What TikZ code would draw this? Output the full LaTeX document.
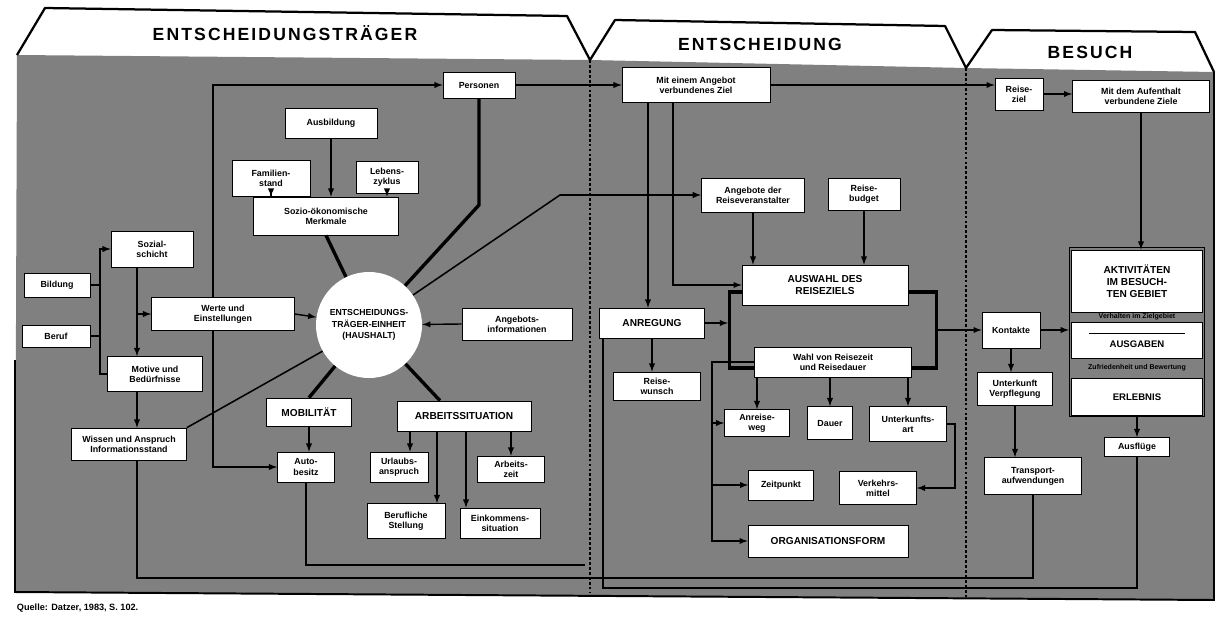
\documentclass[tikz,border=0pt]{standalone}
\usepackage{fontspec}
\setmainfont{Liberation Sans}

\tikzset{
  box/.style 2 args={draw, fill=white, line width=0.5pt, minimum width=#1*0.025cm, minimum height=#2*0.025cm,
    inner sep=0.6pt, align=center, font=\fontsize{6.3}{7.2}\selectfont\bfseries},
  capbox/.style 2 args={box={#1}{#2}, font=\fontsize{7.2}{8.2}\selectfont\bfseries},
  conn/.style={line width=1pt},
  spoke/.style={line width=2.4pt},
  thinspoke/.style={line width=1.1pt},
  sep/.style={line width=1.6pt, dash pattern=on 2pt off 1.5pt},
  tab/.style={line width=1.6pt, line join=round},
  tablabel/.style={font=\fontsize{12.5}{12.5}\selectfont\bfseries\addfontfeature{LetterSpace=12}},
  strip/.style={font=\fontsize{5}{5.6}\selectfont\bfseries, align=center, inner sep=0pt}
}

\begin{document}
\begin{tikzpicture}[x=0.025cm, y=-0.025cm, >=latex]
        \useasboundingbox (0,0) rectangle (1217,619);

        \coordinate (xB) at (100,0);
        \coordinate (xS) at (137,0);
        \coordinate (xL) at (213,0);
        \coordinate (xu) at (410,0);
        \coordinate (xc) at (437,0);
        \coordinate (xe) at (466,0);
        \coordinate (x603) at (603,0);
        \coordinate (xz1) at (648,0);
        \coordinate (xz2) at (673,0);
        \coordinate (xm) at (712,0);
        \coordinate (xr) at (955,0);
        \coordinate (j565) at (585,565);
        \coordinate (j578) at (600,578);
        \coordinate (base) at (0,588);

        \fill[black!50] (17,55) -- (590,60) -- (966,68) -- (1214,72) -- (1214,600) -- (15,592) -- cycle;
        \draw[tab] (17,55) -- (45,8) -- (567,16) -- (590,60) -- (615,20) -- (945,26) -- (966,68) -- (992,30) -- (1195,32) -- (1214,72);
        \draw[sep] (590,60) -- (590,592);
        \draw[sep] (966,68) -- (966,598);
        \draw[line width=1.4pt] (15,360) -- (15,592) -- (1214,600) -- (1214,72);

        \node[tablabel] (tl1) at (285,33) {ENTSCHEIDUNGSTRÄGER};
        \node[tablabel] (tl2) at (760,44) {ENTSCHEIDUNG};
        \node[tablabel] (tl3) at (1090,52) {BESUCH};

        \node[draw, line width=2.2pt, minimum width=207*0.025cm, minimum height=76*0.025cm] (enc) at (833,330) {};
        \node[draw, line width=1pt, minimum width=135*0.025cm, minimum height=169*0.025cm] (big) at (1137,332) {};

        \node[box={72}{26}] (pers) at (479,85) {Personen};
        \node[box={92}{30}] (ausb) at (331,123) {Ausbildung};
        \node[box={78}{36}] (fam) at (271,178) {Familien-\\stand};
        \node[box={62}{32}] (lz) at (387,177) {Lebens-\\zyklus};
        \node[box={145}{38}] (sozio) at (326,216) {Sozio-ökonomische\\Merkmale};
        \node[box={82}{36}] (schicht) at (152,249) {Sozial-\\schicht};
        \node[box={66}{24}] (bild) at (57,285) {Bildung};
        \node[box={68}{22}] (beruf) at (56,336) {Beruf};
        \node[box={143}{33}] (werte) at (223,314) {Werte und\\Einstellungen};
        \node[box={95}{35}] (motiv) at (155,374) {Motive und\\Bedürfnisse};
        \node[box={115}{32}] (wissen) at (129,444) {Wissen und Anspruch\\Informationsstand};
        \node[circle, fill=white, minimum size=106*0.025cm, inner sep=0pt, align=center,
              font=\fontsize{6.2}{8.2}\selectfont\bfseries] (trg) at (369,325) {ENTSCHEIDUNGS-\\TRÄGER-EINHEIT\\(HAUSHALT)};
        \node[capbox={85}{28}] (mob) at (309,412) {MOBILITÄT};
        \node[box={57}{30}] (auto) at (306,467) {Auto-\\besitz};
        \node[capbox={134}{30}] (arb) at (464,416) {ARBEITSSITUATION};
        \node[box={58}{30}] (url) at (399,467) {Urlaubs-\\anspruch};
        \node[box={67}{26}] (azeit) at (511,469) {Arbeits-\\zeit};
        \node[box={78}{35}] (stell) at (406,521) {Berufliche\\Stellung};
        \node[box={80}{30}] (eink) at (500,523) {Einkommens-\\situation};
        \node[box={110}{32}] (info) at (517,324) {Angebots-\\informationen};

        \node[box={148}{35}] (ziel1) at (696,85) {Mit einem Angebot\\verbundenes Ziel};
        \node[box={103}{34}] (anb) at (753,195) {Angebote der\\Reiseveranstalter};
        \node[box={72}{32}] (budget) at (864,194) {Reise-\\budget};
        \node[capbox={166}{40}] (ausw) at (825,285) {AUSWAHL DES\\REISEZIELS};
        \node[capbox={105}{30}] (anreg) at (652,323) {ANREGUNG};
        \node[box={87}{28}] (wunsch) at (657,386) {Reise-\\wunsch};
        \node[box={157}{30}] (wahl) at (833,362) {Wahl von Reisezeit\\und Reisedauer};
        \node[box={65}{27}] (anr) at (757,423) {Anreise-\\weg};
        \node[box={45}{33}] (dauer) at (830,423) {Dauer};
        \node[box={77}{35}] (untk) at (908,424) {Unterkunfts-\\art};
        \node[box={65}{30}] (zeitp) at (781,485) {Zeitpunkt};
        \node[box={77}{33}] (verk) at (878,488) {Verkehrs-\\mittel};
        \node[capbox={160}{32}] (org) at (828,541) {ORGANISATIONSFORM};

        \node[box={48}{32}] (fremd) at (1019,94) {Reise-\\ziel};
        \node[box={137}{32}] (ziel2) at (1141,96) {Mit dem Aufenthalt\\verbundene Ziele};
        \node[box={131}{62}, font=\fontsize{7.2}{8.6}\selectfont\bfseries] (akt) at (1137,281) {AKTIVITÄTEN\\IM BESUCH-\\TEN GEBIET};
        \node[box={131}{36}, font=\fontsize{6.8}{7.6}\selectfont\bfseries] (ausg) at (1137,340) {\rule{2.4cm}{0.8pt}\\[2pt]AUSGABEN};
        \node[box={131}{37}, font=\fontsize{6.8}{7.6}\selectfont\bfseries] (erg) at (1137,397) {ERLEBNIS};
        \node[strip] (st1) at (1137,317) {Verhalten im Zielgebiet};
        \node[strip] (st2) at (1137,368) {Zufriedenheit und Bewertung};
        \node[box={58}{36}] (kont) at (1011,330) {Kontakte};
        \node[box={75}{33}] (verpf) at (1015,389) {Unterkunft\\Verpflegung};
        \node[box={97}{37}] (transp) at (1033,476) {Transport-\\aufwendungen};
        \node[box={65}{19}] (ausfl) at (1137,447) {Ausflüge};

        \node[anchor=west, font=\fontsize{6.5}{7}\selectfont\bfseries] (src) at (12,608) {Quelle: Datzer, 1983, S. 102.};

        \draw[conn,->] (ausb.south) -- (ausb.south |- sozio.north);
        \draw[conn,->] (fam.south) -- (fam.south |- sozio.north);
        \draw[conn,->] (lz.south) -- (lz.south |- sozio.north);
        \draw[spoke] (sozio.south) -- (trg);
        \draw[spoke] (trg) -- (479,205) -- (pers.south);
        \draw[thinspoke,->] (trg) -- (560,195) -- (anb.west);
        \draw[spoke] (trg) -- (mob.north);
        \draw[spoke] (trg) -- ([xshift=-0.6cm]arb.north);
        \draw[thinspoke] (trg) -- (wissen.north east);
        \draw[conn,->] (werte.east) -- (trg);
        \draw[conn,->] (info.west) -- (trg);
        \draw[conn,->] (werte.north -| xL) |- (pers.west);
        \draw[conn,->] (werte.south -| xL) |- (auto.west);
        \draw[conn,->] (motiv.west) -- (motiv.west -| xB) |- (schicht.west);
        \draw[conn] (bild.east) -- (bild.east -| xB);
        \draw[conn] (beruf.east) -- (beruf.east -| xB);
        \draw[conn,->] (schicht.south -| xS) |- (werte.west);
        \draw[conn,->] (werte.west -| xS) -- (motiv.north -| xS);
        \draw[conn,->] (motiv.south -| xS) -- (wissen.north -| xS);
        \draw[conn] (wissen.south -| xS) |- (j578) -| (transp.south);
        \draw[conn,->] (mob.south) -- (mob.south |- auto.north);
        \draw[conn] (auto.south) |- (j565);
        \draw[conn,->] (arb.south -| xu) -- (url.north -| xu);
        \draw[conn,->] (arb.south -| azeit.north) -- (azeit.north);
        \draw[conn,->] (arb.south -| xc) -- (stell.north -| xc);
        \draw[conn,->] (arb.south -| xe) -- (eink.north -| xe);

        \draw[conn,->] (pers.east) -- (ziel1.west);
        \draw[conn,->] (ziel1.east) -- (ziel1.east -| fremd.west);
        \draw[conn,->] (fremd.east) -- (fremd.east -| ziel2.west);
        \draw[conn,->] (ziel1.south -| xz1) -- (anreg.north -| xz1);
        \draw[conn,->] (ziel1.south -| xz2) |- (ausw.west);
        \draw[conn,->] (anb.south) -- (anb.south |- ausw.north);
        \draw[conn,->] (budget.south) -- (budget.south |- ausw.north);
        \draw[conn,->] (anreg.south) -- (anreg.south |- wunsch.north);
        \draw[conn,->] (anreg.east) -- (anreg.east -| enc.west);
        \draw[conn,->] (enc.east) -- (kont.west);
        \draw[conn,->] (wahl.south -| anr.north) -- (anr.north);
        \draw[conn,->] (wahl.south -| dauer.north) -- (dauer.north);
        \draw[conn,->] (wahl.south -| untk.north) -- (untk.north);
        \draw[conn,->] (wahl.west) -- (wahl.west -| xm) |- (org.west);
        \draw[conn,->] (anr.west -| xm) -- (anr.west);
        \draw[conn,->] (zeitp.west -| xm) -- (zeitp.west);
        \draw[conn,->] (untk.east) -- (untk.east -| xr) |- (verk.east);
        \draw[conn] (ausfl.south) -- (ausfl.south |- base) -| (anreg.south -| x603);

        \draw[conn,->] (ziel2.south) -- (ziel2.south |- akt.north);
        \draw[conn,->] (kont.east) -- (kont.east -| big.west);
        \draw[conn,->] (kont.south) -- (kont.south |- verpf.north);
        \draw[conn,->] (verpf.south) -- (verpf.south |- transp.north);
        \draw[conn,->] (big.south -| ausfl.north) -- (ausfl.north);

\end{tikzpicture}
\end{document}
